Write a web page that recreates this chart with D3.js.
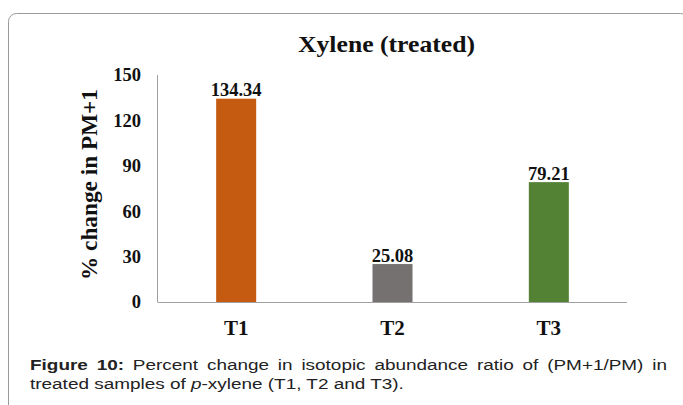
<!DOCTYPE html>
<html>

<head>
  <title>Xylene (treated)</title>
  <meta charset="utf-8">
  <style>
    body {
      margin: 0;
      background-color: #fff;
    }
  </style>
</head>

<body>
  <svg width="683" height="405"></svg>
  <script src="https://d3js.org/d3.v7.min.js"></script>
  <script>
    var categories = ["T1", "T2", "T3"];
    var values = [134.34, 25.08, 79.21];
    var yTicks = [0, 30, 60, 90, 120, 150];
    var colors = ["#C55A11", "#767171", "#548235"];

    var svg = d3.select("svg"),
      serif = "'Liberation Serif', 'Times New Roman', serif",
      sans = "'Liberation Sans', Arial, sans-serif";

    // frame around the figure
    svg.append("rect")
      .attr("x", 8.5)
      .attr("y", 13.5)
      .attr("width", 680)
      .attr("height", 430)
      .attr("rx", 8)
      .attr("fill", "none")
      .attr("stroke", "#9a9a9a");

    var x = d3.scaleBand()
      .domain(categories)
      .range([158, 627])
      .paddingInner(0.744)
      .paddingOuter(0.372);

    var y = d3.scaleLinear()
      .domain([0, 150])
      .range([302, 75]);

    var g = svg.append("g");

    g.selectAll("rect.bar")
      .data(categories)
      .enter().append("rect")
      .attr("class", "bar")
      .attr("x", function (d) { return x(d); })
      .attr("y", function (d, i) { return y(values[i]); })
      .attr("width", x.bandwidth())
      .attr("height", function (d, i) { return y(0) - y(values[i]); })
      .attr("fill", function (d, i) { return colors[i]; });

    // value labels
    g.selectAll("text.val")
      .data(categories)
      .enter().append("text")
      .attr("class", "val")
      .attr("x", function (d) { return x(d) + x.bandwidth() / 2; })
      .attr("y", function (d, i) { return y(values[i]) - 2.5; })
      .attr("text-anchor", "middle")
      .attr("font-family", serif)
      .attr("font-weight", "bold")
      .attr("font-size", 18.5)
      .attr("fill", "#111")
      .text(function (d, i) { return values[i].toFixed(2); });

    // axes
    g.append("line")
      .attr("x1", 157.5).attr("x2", 157.5)
      .attr("y1", y(150)).attr("y2", y(0))
      .attr("stroke", "#a0a0a0");

    g.append("line")
      .attr("x1", 157.5).attr("x2", 627)
      .attr("y1", y(0) + 0.5).attr("y2", y(0) + 0.5)
      .attr("stroke", "#a0a0a0");

    g.selectAll("text.ytick")
      .data(yTicks)
      .enter().append("text")
      .attr("class", "ytick")
      .attr("x", 141)
      .attr("y", function (d) { return y(d); })
      .attr("dy", "0.35em")
      .attr("text-anchor", "end")
      .attr("font-family", serif)
      .attr("font-weight", "bold")
      .attr("font-size", 18.5)
      .attr("fill", "#111")
      .text(function (d) { return d; });

    g.selectAll("text.xtick")
      .data(categories)
      .enter().append("text")
      .attr("class", "xtick")
      .attr("x", function (d) { return x(d) + x.bandwidth() / 2; })
      .attr("y", 335)
      .attr("text-anchor", "middle")
      .attr("font-family", serif)
      .attr("font-weight", "bold")
      .attr("font-size", 21)
      .attr("fill", "#111")
      .text(function (d) { return d; });

    // titles
    svg.append("text")
      .attr("x", 386.5)
      .attr("y", 52)
      .attr("text-anchor", "middle")
      .attr("font-family", serif)
      .attr("font-weight", "bold")
      .attr("font-size", 22.5)
      .attr("textLength", 177)
      .attr("lengthAdjust", "spacingAndGlyphs")
      .attr("fill", "#111")
      .text("Xylene (treated)");

    svg.append("text")
      .attr("transform", "translate(97,184.5)rotate(-90)")
      .attr("text-anchor", "middle")
      .attr("font-family", serif)
      .attr("font-weight", "bold")
      .attr("font-size", 22.5)
      .attr("textLength", 191)
      .attr("lengthAdjust", "spacingAndGlyphs")
      .attr("fill", "#111")
      .text("% change in PM+1");

    // caption: the original type is stretched sideways, first line justified
    var capLeft = 30, capRight = 667, cap2Right = 404;

    var cap2 = svg.append("text")
      .attr("font-family", sans)
      .attr("font-size", 15.5)
      .attr("fill", "#222");
    cap2.append("tspan").text("treated samples of ");
    cap2.append("tspan").attr("font-style", "italic").text("p");
    cap2.append("tspan").text("-xylene (T1, T2 and T3).");
    var sx = (cap2Right - capLeft) / cap2.node().getComputedTextLength();
    cap2.attr("transform", "translate(" + capLeft + ",389)scale(" + sx + ",1)");

    var cap1 = svg.append("text")
      .attr("font-family", sans)
      .attr("font-size", 15.5)
      .attr("fill", "#222")
      .attr("transform", "translate(" + capLeft + ",370)scale(" + sx + ",1)");
    cap1.append("tspan").attr("font-weight", "bold").text("Figure 10:");
    cap1.append("tspan").text(" Percent change in isotopic abundance ratio of (PM+1/PM) in");

    var natural = cap1.node().getComputedTextLength();
    cap1.attr("word-spacing", ((capRight - capLeft) / sx - natural) / 10);
  </script>
</body>

</html>
